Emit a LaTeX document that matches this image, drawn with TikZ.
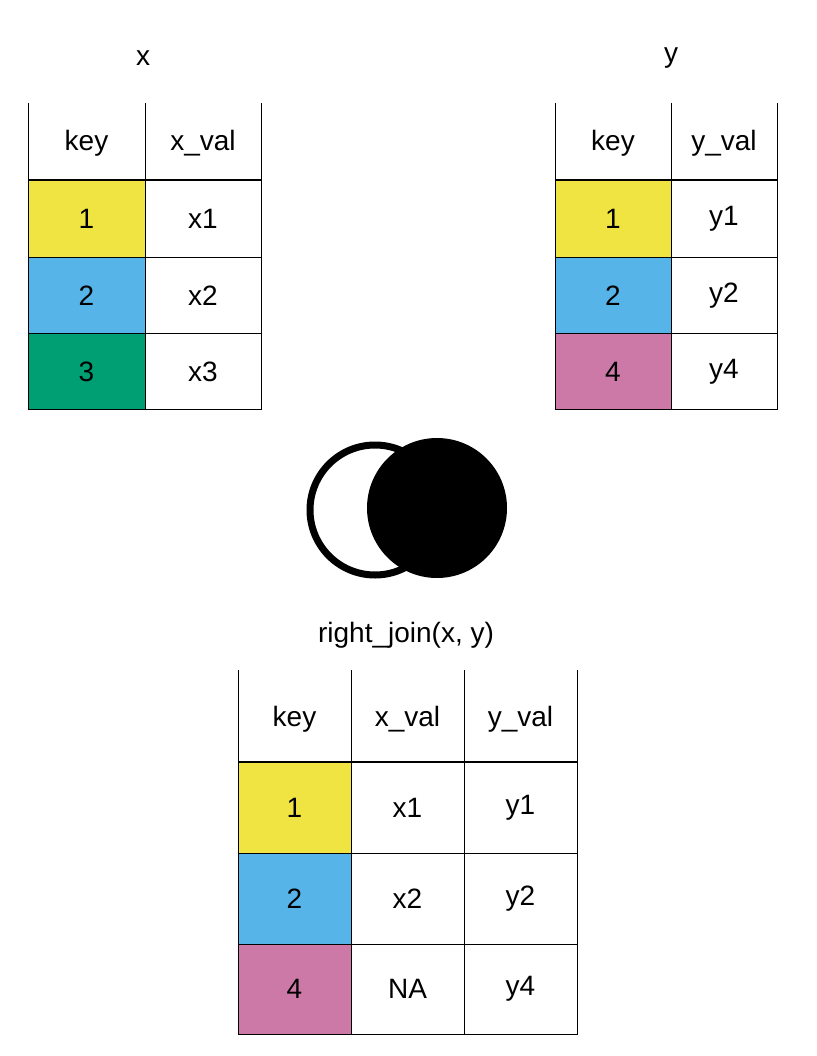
\documentclass[tikz,border=0pt]{standalone}
\usepackage{fontspec}
\setmainfont{Liberation Sans}
\definecolor{cy}{HTML}{F0E442}
\definecolor{cb}{HTML}{56B4E9}
\definecolor{cg}{HTML}{009E73}
\definecolor{cp}{HTML}{CC79A7}
\tikzset{cell/.style={draw=black,line width=0.8pt,minimum width=#1,minimum height=0pt,inner sep=0pt,font=\fontsize{28}{30}\selectfont}}
\newcommand{\cellbox}[6]{% name, x1, y1, x2, y2, fill, text
}
\begin{document}
\begin{tikzpicture}[x=1pt,y=-1pt,txt/.style={font=\fontsize{28}{30}\selectfont},thin line/.style={line width=0.8pt},head/.style={line width=2.5pt}]
\useasboundingbox (0,0) rectangle (816,1056);
% table x
\fill[cy] (28,180) rectangle (145,257);
\fill[cb] (28,257) rectangle (145,333);
\fill[cg] (28,333) rectangle (145,409);
\draw[thin line] (28,103) -- (28,409) -- (261,409) -- (261,103);
\draw[thin line] (145,103) -- (145,409);
\draw[thin line] (28,257) -- (261,257) (28,333) -- (261,333);
\draw[head] (28,180) -- (261,180);
\node[txt] (xl) at (143,58) {x};
\node[txt] (xk) at (86.5,143) {key};
\node[txt] (xv) at (203,143) {x\_val};
\node[txt] (x1k) at (86.5,219) {1}; \node[txt] (x1v) at (203,219) {x1};
\node[txt] (x2k) at (86.5,296) {2}; \node[txt] (x2v) at (203,296) {x2};
\node[txt] (x3k) at (86.5,372) {3}; \node[txt] (x3v) at (203,372) {x3};
% table y
\fill[cy] (555,180) rectangle (671,257);
\fill[cb] (555,257) rectangle (671,333);
\fill[cp] (555,333) rectangle (671,409);
\draw[thin line] (555,103) -- (555,409) -- (777,409) -- (777,103);
\draw[thin line] (671,103) -- (671,409);
\draw[thin line] (555,257) -- (777,257) (555,333) -- (777,333);
\draw[head] (555,180) -- (777,180);
\node[txt] (yl) at (671,58) {y};
\node[txt] (yk) at (613,143) {key};
\node[txt] (yv) at (724,143) {y\_val};
\node[txt] (y1k) at (613,219) {1}; \node[txt] (y1v) at (724,219) {y1};
\node[txt] (y2k) at (613,296) {2}; \node[txt] (y2v) at (724,296) {y2};
\node[txt] (y4k) at (613,372) {4}; \node[txt] (y4v) at (724,372) {y4};
% venn
\draw[line width=7pt,fill=white] (375,510) circle (65);
\fill[black] (437,508) circle (70);
\node[txt] (title) at (406,635) {right\_join(x, y)};
% result
\fill[cy] (238,762) rectangle (351,853);
\fill[cb] (238,853) rectangle (351,944);
\fill[cp] (238,944) rectangle (351,1034);
\draw[thin line] (238,670) -- (238,1034) -- (577,1034) -- (577,670);
\draw[thin line] (351,670) -- (351,1034) (464,670) -- (464,1034);
\draw[thin line] (238,853) -- (577,853) (238,944) -- (577,944);
\draw[head] (238,762) -- (577,762);
\node[txt] (rk) at (294.5,719) {key};
\node[txt] (rx) at (407.5,719) {x\_val};
\node[txt] (ry) at (520.5,719) {y\_val};
\node[txt] (r1k) at (294.5,808) {1}; \node[txt] (r1x) at (407.5,808) {x1}; \node[txt] (r1y) at (520.5,808) {y1};
\node[txt] (r2k) at (294.5,899) {2}; \node[txt] (r2x) at (407.5,899) {x2}; \node[txt] (r2y) at (520.5,899) {y2};
\node[txt] (r4k) at (294.5,989) {4}; \node[txt] (r4x) at (407.5,989) {NA}; \node[txt] (r4y) at (520.5,989) {y4};
\end{tikzpicture}
\end{document}
